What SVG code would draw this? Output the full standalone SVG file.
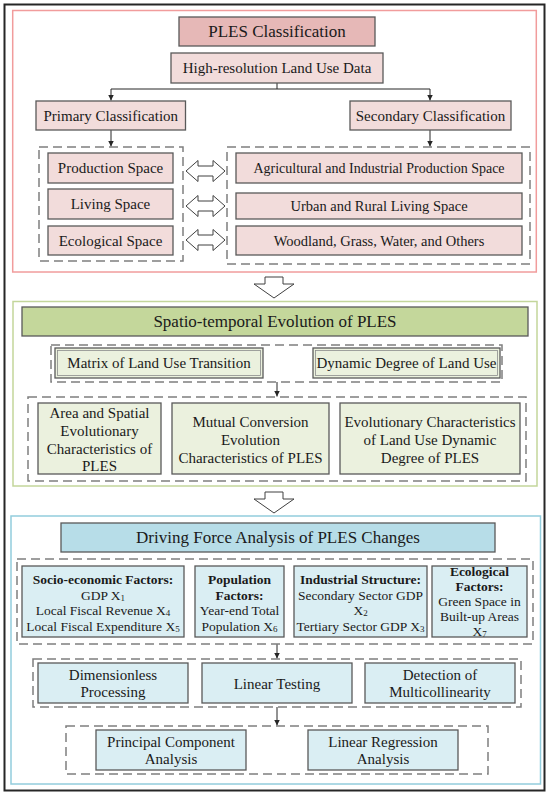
<svg xmlns="http://www.w3.org/2000/svg" width="550" height="795" viewBox="0 0 550 795">
<style>
text{font-family:"Liberation Serif","Times New Roman",serif;fill:#1a1a1a;text-anchor:middle;dominant-baseline:central}
.t{font-size:17px}
.m{font-size:15px}
.s{font-size:13.5px}
.b{font-weight:bold}
.box{stroke:#595959;stroke-width:1.3}
.pk{fill:#f2dcdb}
.pk2{fill:#e6b8b7}
.gn{fill:#ebf1de}
.gn2{fill:#c4d79b}
.bl{fill:#daeef3}
.bl2{fill:#b7dde8}
.dash{fill:none;stroke:#7f7f7f;stroke-width:1.5;stroke-dasharray:9 5}
.con{fill:none;stroke:#262626;stroke-width:1}
.hol{fill:#fff;stroke:#404040;stroke-width:1}
.sub{font-size:9px}
</style>
<defs>
<marker id="ah" markerUnits="userSpaceOnUse" markerWidth="8" markerHeight="8" refX="6" refY="3" orient="auto">
<path d="M0,0 L6,3 L0,6 Z" fill="#262626"/>
</marker>
</defs>
<rect x="4.5" y="4.5" width="540" height="786" fill="#fff" stroke="#262626" stroke-width="2"/>
<rect x="12.7" y="10.5" width="523.6" height="261.5" fill="none" stroke="#f19c9c" stroke-width="1.5"/>
<rect x="13" y="301.5" width="524" height="184.5" fill="none" stroke="#c3d69b" stroke-width="1.5"/>
<rect x="11" y="516" width="529.5" height="268" fill="none" stroke="#93cddd" stroke-width="1.5"/>

<g id="connectors">
<path class="con" d="M277,83 V89 M111,89 H430"/>
<path class="con" d="M111,89 V100.5" marker-end="url(#ah)"/>
<path class="con" d="M430,89 V100.5" marker-end="url(#ah)"/>
<path class="con" d="M111,130 V146.5" marker-end="url(#ah)"/>
<path class="con" d="M430,130 V146.5" marker-end="url(#ah)"/>
<path class="con" d="M277,382 V396.5" marker-end="url(#ah)"/>
<path class="con" d="M277,644 V658.5" marker-end="url(#ah)"/>
<path class="con" d="M277,707 V725.5" marker-end="url(#ah)"/>
<polygon class="hol" points="186,171 198,160.5 198,166 213,166 213,160.5 225,171 213,181.5 213,176 198,176 198,181.5"/>
<polygon class="hol" points="186,206 198,195.5 198,201 213,201 213,195.5 225,206 213,216.5 213,211 198,211 198,216.5"/>
<polygon class="hol" points="186,240 198,229.5 198,235 213,235 213,229.5 225,240 213,250.5 213,245 198,245 198,250.5"/>
<polygon class="hol" points="265,277 283,277 283,284 294,284 274,298 254,284 265,284"/>
<polygon class="hol" points="265,492 283,492 283,499 294,499 274,513 254,499 265,499"/>
</g>

<g id="n-ples-classification">
<rect class="box pk2" x="179" y="17" width="196" height="29"/>
<text class="t" x="277" y="31.5">PLES Classification</text>
</g>
<g id="n-highres">
<rect class="box pk" x="171" y="53" width="212" height="30"/>
<text class="m" x="277" y="68">High-resolution Land Use Data</text>
</g>
<g id="n-primary">
<rect class="box pk" x="36" y="101" width="149.5" height="29"/>
<text class="m" x="110.8" y="115.5">Primary Classification</text>
</g>
<g id="n-secondary">
<rect class="box pk" x="350" y="101" width="161" height="29"/>
<text class="m" x="430.5" y="115.5">Secondary Classification</text>
</g>
<g id="n-primary-group">
<rect class="dash" x="39" y="147" width="144" height="114"/>
</g>
<g id="n-secondary-group">
<rect class="dash" x="227" y="147" width="303" height="117"/>
</g>
<g id="n-production">
<rect class="box pk" x="48" y="153" width="125" height="30"/>
<text class="m" x="110.5" y="168">Production Space</text>
</g>
<g id="n-living">
<rect class="box pk" x="48" y="189" width="125" height="30"/>
<text class="m" x="110.5" y="204">Living Space</text>
</g>
<g id="n-ecological">
<rect class="box pk" x="48" y="226" width="125" height="29"/>
<text class="m" x="110.5" y="240.5">Ecological Space</text>
</g>
<g id="n-agri">
<rect class="box pk" x="236" y="153" width="286" height="30"/>
<text class="m" x="379" y="168" style="font-size:14px">Agricultural and Industrial Production Space</text>
</g>
<g id="n-urban">
<rect class="box pk" x="236" y="193" width="286" height="26"/>
<text class="m" x="379" y="206" style="font-size:14.5px">Urban and Rural Living Space</text>
</g>
<g id="n-woodland">
<rect class="box pk" x="236" y="226" width="286" height="29"/>
<text class="m" x="379" y="240.5" style="font-size:14.5px">Woodland, Grass, Water, and Others</text>
</g>

<g id="n-spatio">
<rect class="box gn2" x="22" y="307" width="506" height="29"/>
<text class="t" x="275" y="321.5">Spatio-temporal Evolution of PLES</text>
</g>
<g id="n-methods-group">
<rect class="dash" x="51" y="345" width="451" height="37"/>
</g>
<g id="n-matrix">
<rect class="box gn" x="55" y="348" width="208" height="30"/>
<rect x="57.5" y="350.5" width="203" height="25" fill="none" stroke="#8c8c8c" stroke-width="0.8"/>
<text class="m" x="159" y="363">Matrix of Land Use Transition</text>
</g>
<g id="n-dynamic">
<rect class="box gn" x="313" y="348" width="187" height="30"/>
<rect x="315.5" y="350.5" width="182" height="25" fill="none" stroke="#8c8c8c" stroke-width="0.8"/>
<text class="m" x="406.5" y="363">Dynamic Degree of Land Use</text>
</g>
<g id="n-char-group">
<rect class="dash" x="28" y="397" width="498" height="84"/>
</g>
<g id="n-area">
<rect class="box gn" x="38" y="403" width="123" height="71"/>
<text class="m"><tspan x="99.5" y="413">Area and Spatial</tspan><tspan x="99.5" y="431">Evolutionary</tspan><tspan x="99.5" y="448.5">Characteristics of</tspan><tspan x="99.5" y="466">PLES</tspan></text>
</g>
<g id="n-mutual">
<rect class="box gn" x="172" y="403" width="157" height="71"/>
<text class="m"><tspan x="250.5" y="422">Mutual Conversion</tspan><tspan x="250.5" y="440">Evolution</tspan><tspan x="250.5" y="457.5">Characteristics of PLES</tspan></text>
</g>
<g id="n-evol">
<rect class="box gn" x="340" y="403" width="180" height="71"/>
<text class="m"><tspan x="430" y="422">Evolutionary Characteristics</tspan><tspan x="430" y="440">of Land Use Dynamic</tspan><tspan x="430" y="457.5">Degree of PLES</tspan></text>
</g>

<g id="n-driving">
<rect class="box bl2" x="61" y="523" width="434" height="29"/>
<text class="t" x="278" y="537.5">Driving Force Analysis of PLES Changes</text>
</g>
<g id="n-factors-group">
<rect class="dash" x="17" y="559" width="516" height="85"/>
</g>
<g id="n-socio">
<rect class="box bl" x="22" y="566" width="162" height="71"/>
<text class="s"><tspan x="103" y="579" class="b">Socio-economic Factors:</tspan><tspan x="103" y="594.5">GDP X<tspan class="sub" dy="3">1</tspan></tspan><tspan x="103" y="610">Local Fiscal Revenue X<tspan class="sub" dy="3">4</tspan></tspan><tspan x="103" y="626">Local Fiscal Expenditure X<tspan class="sub" dy="3">5</tspan></tspan></text>
</g>
<g id="n-population">
<rect class="box bl" x="195" y="566" width="89" height="71"/>
<text class="s"><tspan x="239.5" y="579" class="b">Population</tspan><tspan x="239.5" y="594.5" class="b">Factors:</tspan><tspan x="239.5" y="610">Year-end Total</tspan><tspan x="239.5" y="626">Population X<tspan class="sub" dy="3">6</tspan></tspan></text>
</g>
<g id="n-industrial">
<rect class="box bl" x="294" y="566" width="133" height="71"/>
<text class="s"><tspan x="360.5" y="579" class="b">Industrial Structure:</tspan><tspan x="360.5" y="594.5">Secondary Sector GDP</tspan><tspan x="360.5" y="610">X<tspan class="sub" dy="3">2</tspan></tspan><tspan x="360.5" y="626">Tertiary Sector GDP X<tspan class="sub" dy="3">3</tspan></tspan></text>
</g>
<g id="n-ecofactors">
<rect class="box bl" x="432" y="566" width="95" height="71"/>
<text class="s"><tspan x="479.5" y="570.5" class="b">Ecological</tspan><tspan x="479.5" y="585.5" class="b">Factors:</tspan><tspan x="479.5" y="600.5">Green Space in</tspan><tspan x="479.5" y="615.5">Built-up Areas</tspan><tspan x="479.5" y="631">X<tspan class="sub" dy="3">7</tspan></tspan></text>
</g>
<g id="n-tests-group">
<rect class="dash" x="33" y="659" width="488" height="48"/>
</g>
<g id="n-dimensionless">
<rect class="box bl" x="38" y="663" width="150" height="40"/>
<text class="m"><tspan x="113" y="674.5">Dimensionless</tspan><tspan x="113" y="692">Processing</tspan></text>
</g>
<g id="n-linear-testing">
<rect class="box bl" x="202" y="663" width="150" height="40"/>
<text class="m" x="277" y="683.5">Linear Testing</text>
</g>
<g id="n-multicollinearity">
<rect class="box bl" x="365" y="663" width="150" height="40"/>
<text class="m"><tspan x="440" y="674.5">Detection of</tspan><tspan x="440" y="692">Multicollinearity</tspan></text>
</g>
<g id="n-analysis-group">
<rect class="dash" x="66" y="726" width="422" height="48"/>
</g>
<g id="n-pca">
<rect class="box bl" x="96" y="730" width="150" height="40"/>
<text class="m"><tspan x="171" y="742">Principal Component</tspan><tspan x="171" y="759">Analysis</tspan></text>
</g>
<g id="n-lra">
<rect class="box bl" x="308" y="730" width="150" height="40"/>
<text class="m"><tspan x="383" y="742">Linear Regression</tspan><tspan x="383" y="759">Analysis</tspan></text>
</g>
</svg>
